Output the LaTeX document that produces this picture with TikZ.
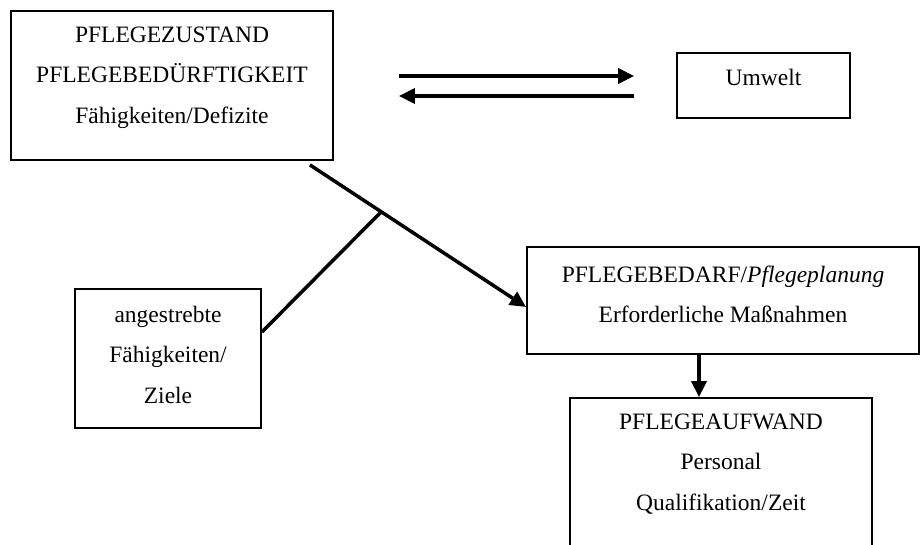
\documentclass[tikz,border=0pt]{standalone}
\usepackage{fontspec}
\setmainfont{Liberation Serif}
\usetikzlibrary{arrows.meta, calc}

\begin{document}
\begin{tikzpicture}[x=1pt, y=-1pt, >={Triangle[length=16pt, width=15pt]},
    box/.style={draw, line width=1.8pt, inner sep=0pt, align=center,
        font=\fontsize{23.5}{40.5}\selectfont},
    link/.style={line width=3.5pt}]
    \useasboundingbox (0,0) rectangle (920,544);

    % Nodes
    \node[box, minimum width=322pt, minimum height=149pt] (zustand) at (172,85.5)
        {PFLEGEZUSTAND\\PFLEGEBEDÜRFTIGKEIT\\Fähigkeiten/Defizite\\[-19pt]};
    \node[box, minimum width=173pt, minimum height=65pt] (umwelt) at (763.5,85.5)
        {Umwelt\\[-23.5pt]};
    \node[box, minimum width=392pt, minimum height=107pt] (bedarf) at (723,300.5)
        {PFLEGEBEDARF/\textit{Pflegeplanung}\\Erforderliche Maßnahmen\\[-28pt]};
    \node[box, minimum width=186pt, minimum height=139pt] (ziele) at (168,358.5)
        {angestrebte\\Fähigkeiten/\\Ziele\\[-32.5pt]};
    \node[box, minimum width=302pt, minimum height=180pt] (aufwand) at (721,488)
        {PFLEGEAUFWAND\\Personal\\Qualifikation/Zeit\\[12pt]};

    % Points on the diagonal
    \coordinate (von) at ([xshift=-24pt, yshift=-4pt]zustand.south east);
    \coordinate (bis) at ([yshift=-6.5pt]bedarf.west);
    \coordinate (gabel) at ($(von)!0.33!(bis)$);

    % Edges
    \draw[link, ->] ([xshift=65pt, yshift=9.5pt]zustand.east)
        -- ([xshift=-42pt, yshift=9.5pt]umwelt.west);
    \draw[link, ->] ([xshift=-42pt, yshift=-10.5pt]umwelt.west)
        -- ([xshift=65pt, yshift=-10.5pt]zustand.east);
    \draw[link, ->] (von) -- (bis);
    \draw[link] (gabel) -- ([yshift=26.5pt]ziele.east);
    \draw[link, ->] ([xshift=-24pt]bedarf.south) -- ([xshift=-24pt]bedarf.south |- aufwand.north);
\end{tikzpicture}
\end{document}
